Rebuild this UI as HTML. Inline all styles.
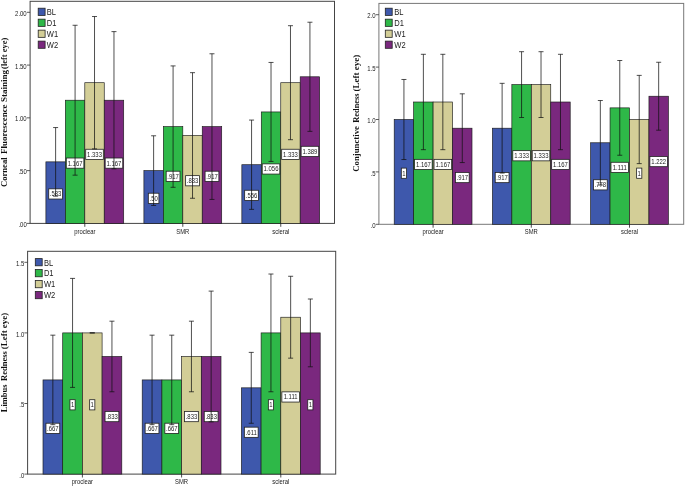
<!DOCTYPE html>
<html lang="en"><head><meta charset="utf-8"><title>Bar charts</title>
<style>html,body{margin:0;padding:0;background:#fff;}svg{display:block;filter:blur(0.3px);}text{font-family:"Liberation Sans",sans-serif;fill:#222;}.ttl{font-family:"Liberation Serif",serif;font-weight:bold;fill:#111;}</style></head><body>
<svg width="685" height="486" viewBox="0 0 685 486">
<rect x="0" y="0" width="685" height="486" fill="#fff"/>
<g>
<rect x="30.1" y="1.3" width="304.4" height="222.1" fill="#fff" stroke="#444" stroke-width="1"/>
<line x1="26.9" y1="12.3" x2="30.1" y2="12.3" stroke="#333" stroke-width="0.8"/>
<text transform="translate(26.7 15.9) scale(0.92 1)" font-size="6.5" text-anchor="end" fill="#333">2.00</text>
<line x1="26.9" y1="65.08" x2="30.1" y2="65.08" stroke="#333" stroke-width="0.8"/>
<text transform="translate(26.7 68.68) scale(0.92 1)" font-size="6.5" text-anchor="end" fill="#333">1.50</text>
<line x1="26.9" y1="117.85" x2="30.1" y2="117.85" stroke="#333" stroke-width="0.8"/>
<text transform="translate(26.7 121.45) scale(0.92 1)" font-size="6.5" text-anchor="end" fill="#333">1.00</text>
<line x1="26.9" y1="170.62" x2="30.1" y2="170.62" stroke="#333" stroke-width="0.8"/>
<text transform="translate(26.7 174.22) scale(0.92 1)" font-size="6.5" text-anchor="end" fill="#333">.50</text>
<line x1="26.9" y1="223.4" x2="30.1" y2="223.4" stroke="#333" stroke-width="0.8"/>
<text transform="translate(26.7 227) scale(0.92 1)" font-size="6.5" text-anchor="end" fill="#333">.00</text>
<rect x="45.9" y="161.86" width="19.45" height="61.54" fill="#3E58AC" stroke="#1a1a1a" stroke-width="0.65"/>
<rect x="65.35" y="100.22" width="19.45" height="123.18" fill="#2EB848" stroke="#1a1a1a" stroke-width="0.65"/>
<rect x="84.8" y="82.7" width="19.45" height="140.7" fill="#D3CE97" stroke="#1a1a1a" stroke-width="0.65"/>
<rect x="104.25" y="100.22" width="19.45" height="123.18" fill="#7A287E" stroke="#1a1a1a" stroke-width="0.65"/>
<rect x="143.9" y="170.62" width="19.45" height="52.78" fill="#3E58AC" stroke="#1a1a1a" stroke-width="0.65"/>
<rect x="163.35" y="126.61" width="19.45" height="96.79" fill="#2EB848" stroke="#1a1a1a" stroke-width="0.65"/>
<rect x="182.8" y="135.48" width="19.45" height="87.92" fill="#D3CE97" stroke="#1a1a1a" stroke-width="0.65"/>
<rect x="202.25" y="126.61" width="19.45" height="96.79" fill="#7A287E" stroke="#1a1a1a" stroke-width="0.65"/>
<rect x="241.85" y="164.71" width="19.45" height="58.69" fill="#3E58AC" stroke="#1a1a1a" stroke-width="0.65"/>
<rect x="261.3" y="111.94" width="19.45" height="111.46" fill="#2EB848" stroke="#1a1a1a" stroke-width="0.65"/>
<rect x="280.75" y="82.7" width="19.45" height="140.7" fill="#D3CE97" stroke="#1a1a1a" stroke-width="0.65"/>
<rect x="300.2" y="76.79" width="19.45" height="146.61" fill="#7A287E" stroke="#1a1a1a" stroke-width="0.65"/>
<rect x="48.73" y="188.83" width="13.8" height="10.2" fill="#fff" stroke="#222" stroke-width="0.8"/>
<text transform="translate(55.62 196.33) scale(0.9 1)" font-size="6.6" text-anchor="middle" fill="#333">.583</text>
<rect x="66.28" y="158.01" width="17.6" height="10.2" fill="#fff" stroke="#222" stroke-width="0.8"/>
<text transform="translate(75.08 165.51) scale(0.9 1)" font-size="6.6" text-anchor="middle" fill="#333">1.167</text>
<rect x="85.72" y="149.25" width="17.6" height="10.2" fill="#fff" stroke="#222" stroke-width="0.8"/>
<text transform="translate(94.52 156.75) scale(0.9 1)" font-size="6.6" text-anchor="middle" fill="#333">1.333</text>
<rect x="105.17" y="158.01" width="17.6" height="10.2" fill="#fff" stroke="#222" stroke-width="0.8"/>
<text transform="translate(113.97 165.51) scale(0.9 1)" font-size="6.6" text-anchor="middle" fill="#333">1.167</text>
<rect x="148.32" y="193.21" width="10.6" height="10.2" fill="#fff" stroke="#222" stroke-width="0.8"/>
<text transform="translate(153.62 200.71) scale(0.9 1)" font-size="6.6" text-anchor="middle" fill="#333">.50</text>
<rect x="166.18" y="171.21" width="13.8" height="10.2" fill="#fff" stroke="#222" stroke-width="0.8"/>
<text transform="translate(173.08 178.71) scale(0.9 1)" font-size="6.6" text-anchor="middle" fill="#333">.917</text>
<rect x="185.62" y="175.64" width="13.8" height="10.2" fill="#fff" stroke="#222" stroke-width="0.8"/>
<text transform="translate(192.53 183.14) scale(0.9 1)" font-size="6.6" text-anchor="middle" fill="#333">.833</text>
<rect x="205.08" y="171.21" width="13.8" height="10.2" fill="#fff" stroke="#222" stroke-width="0.8"/>
<text transform="translate(211.98 178.71) scale(0.9 1)" font-size="6.6" text-anchor="middle" fill="#333">.917</text>
<rect x="244.67" y="190.26" width="13.8" height="10.2" fill="#fff" stroke="#222" stroke-width="0.8"/>
<text transform="translate(251.57 197.76) scale(0.9 1)" font-size="6.6" text-anchor="middle" fill="#333">.556</text>
<rect x="262.22" y="163.87" width="17.6" height="10.2" fill="#fff" stroke="#222" stroke-width="0.8"/>
<text transform="translate(271.02 171.37) scale(0.9 1)" font-size="6.6" text-anchor="middle" fill="#333">1.056</text>
<rect x="281.68" y="149.25" width="17.6" height="10.2" fill="#fff" stroke="#222" stroke-width="0.8"/>
<text transform="translate(290.48 156.75) scale(0.9 1)" font-size="6.6" text-anchor="middle" fill="#333">1.333</text>
<rect x="301.12" y="146.3" width="17.6" height="10.2" fill="#fff" stroke="#222" stroke-width="0.8"/>
<text transform="translate(309.93 153.8) scale(0.9 1)" font-size="6.6" text-anchor="middle" fill="#333">1.389</text>
<path d="M55.62 127.56V196.17M53.12 127.56h5M53.12 196.17h5" stroke="#111" stroke-width="0.74" fill="none"/>
<path d="M75.08 25.28V175.16M72.58 25.28h5M72.58 175.16h5" stroke="#111" stroke-width="0.74" fill="none"/>
<path d="M94.52 16.52V148.88M92.02 16.52h5M92.02 148.88h5" stroke="#111" stroke-width="0.74" fill="none"/>
<path d="M113.97 31.62V168.83M111.47 31.62h5M111.47 168.83h5" stroke="#111" stroke-width="0.74" fill="none"/>
<path d="M153.62 135.79V205.46M151.12 135.79h5M151.12 205.46h5" stroke="#111" stroke-width="0.74" fill="none"/>
<path d="M173.08 65.92V187.3M170.58 65.92h5M170.58 187.3h5" stroke="#111" stroke-width="0.74" fill="none"/>
<path d="M192.53 72.67V198.28M190.03 72.67h5M190.03 198.28h5" stroke="#111" stroke-width="0.74" fill="none"/>
<path d="M211.98 53.78V199.44M209.48 53.78h5M209.48 199.44h5" stroke="#111" stroke-width="0.74" fill="none"/>
<path d="M251.57 120.07V209.36M249.07 120.07h5M249.07 209.36h5" stroke="#111" stroke-width="0.74" fill="none"/>
<path d="M271.02 62.44V161.44M268.52 62.44h5M268.52 161.44h5" stroke="#111" stroke-width="0.74" fill="none"/>
<path d="M290.48 25.7V139.7M287.98 25.7h5M287.98 139.7h5" stroke="#111" stroke-width="0.74" fill="none"/>
<path d="M309.93 22.22V131.36M307.43 22.22h5M307.43 131.36h5" stroke="#111" stroke-width="0.74" fill="none"/>
<line x1="84.8" y1="223.4" x2="84.8" y2="226.8" stroke="#222" stroke-width="0.8"/>
<text transform="translate(84.8 233.6) scale(0.92 1)" font-size="6.4" text-anchor="middle" fill="#222">proclear</text>
<line x1="182.8" y1="223.4" x2="182.8" y2="226.8" stroke="#222" stroke-width="0.8"/>
<text transform="translate(182.8 233.6) scale(0.92 1)" font-size="6.4" text-anchor="middle" fill="#222">SMR</text>
<line x1="280.75" y1="223.4" x2="280.75" y2="226.8" stroke="#222" stroke-width="0.8"/>
<text transform="translate(280.75 233.6) scale(0.92 1)" font-size="6.4" text-anchor="middle" fill="#222">scleral</text>
<rect x="38.2" y="8.2" width="6.9" height="7.2" fill="#3E58AC" stroke="#222" stroke-width="0.8"/>
<text transform="translate(46.8 15.1) scale(0.86 1)" font-size="8.8" text-anchor="start" fill="#222">BL</text>
<rect x="38.2" y="19.17" width="6.9" height="7.2" fill="#2EB848" stroke="#222" stroke-width="0.8"/>
<text transform="translate(46.8 26.07) scale(0.86 1)" font-size="8.8" text-anchor="start" fill="#222">D1</text>
<rect x="38.2" y="30.14" width="6.9" height="7.2" fill="#D3CE97" stroke="#222" stroke-width="0.8"/>
<text transform="translate(46.8 37.04) scale(0.86 1)" font-size="8.8" text-anchor="start" fill="#222">W1</text>
<rect x="38.2" y="41.11" width="6.9" height="7.2" fill="#7A287E" stroke="#222" stroke-width="0.8"/>
<text transform="translate(46.8 48.01) scale(0.86 1)" font-size="8.8" text-anchor="start" fill="#222">W2</text>
<text class="ttl" transform="translate(7.3 187) rotate(-90)" font-size="8.2" textLength="29.6" lengthAdjust="spacingAndGlyphs">Corneal</text>
<text class="ttl" transform="translate(7.3 154) rotate(-90)" font-size="8.2" textLength="49.6" lengthAdjust="spacingAndGlyphs">Fluorescence</text>
<text class="ttl" transform="translate(7.3 102) rotate(-90)" font-size="8.2" textLength="31.9" lengthAdjust="spacingAndGlyphs">Staining</text>
<text class="ttl" transform="translate(7.3 68.9) rotate(-90)" font-size="8.2" textLength="31.1" lengthAdjust="spacingAndGlyphs">(left eye)</text>
</g>
<g>
<rect x="378.9" y="3.4" width="304.8" height="220.9" fill="#fff" stroke="#777" stroke-width="1"/>
<line x1="375.7" y1="14.7" x2="378.9" y2="14.7" stroke="#333" stroke-width="0.8"/>
<text transform="translate(375.5 18.3) scale(0.92 1)" font-size="6.5" text-anchor="end" fill="#333">2.0</text>
<line x1="375.7" y1="67.1" x2="378.9" y2="67.1" stroke="#333" stroke-width="0.8"/>
<text transform="translate(375.5 70.7) scale(0.92 1)" font-size="6.5" text-anchor="end" fill="#333">1.5</text>
<line x1="375.7" y1="119.5" x2="378.9" y2="119.5" stroke="#333" stroke-width="0.8"/>
<text transform="translate(375.5 123.1) scale(0.92 1)" font-size="6.5" text-anchor="end" fill="#333">1.0</text>
<line x1="375.7" y1="171.9" x2="378.9" y2="171.9" stroke="#333" stroke-width="0.8"/>
<text transform="translate(375.5 175.5) scale(0.92 1)" font-size="6.5" text-anchor="end" fill="#333">.5</text>
<line x1="375.7" y1="224.3" x2="378.9" y2="224.3" stroke="#333" stroke-width="0.8"/>
<text transform="translate(375.5 227.9) scale(0.92 1)" font-size="6.5" text-anchor="end" fill="#333">.0</text>
<rect x="394.2" y="119.5" width="19.45" height="104.8" fill="#3E58AC" stroke="#1a1a1a" stroke-width="0.65"/>
<rect x="413.65" y="102" width="19.45" height="122.3" fill="#2EB848" stroke="#1a1a1a" stroke-width="0.65"/>
<rect x="433.1" y="102" width="19.45" height="122.3" fill="#D3CE97" stroke="#1a1a1a" stroke-width="0.65"/>
<rect x="452.55" y="128.2" width="19.45" height="96.1" fill="#7A287E" stroke="#1a1a1a" stroke-width="0.65"/>
<rect x="492.4" y="128.2" width="19.45" height="96.1" fill="#3E58AC" stroke="#1a1a1a" stroke-width="0.65"/>
<rect x="511.85" y="84.6" width="19.45" height="139.7" fill="#2EB848" stroke="#1a1a1a" stroke-width="0.65"/>
<rect x="531.3" y="84.6" width="19.45" height="139.7" fill="#D3CE97" stroke="#1a1a1a" stroke-width="0.65"/>
<rect x="550.75" y="102" width="19.45" height="122.3" fill="#7A287E" stroke="#1a1a1a" stroke-width="0.65"/>
<rect x="590.6" y="142.77" width="19.45" height="81.53" fill="#3E58AC" stroke="#1a1a1a" stroke-width="0.65"/>
<rect x="610.05" y="107.87" width="19.45" height="116.43" fill="#2EB848" stroke="#1a1a1a" stroke-width="0.65"/>
<rect x="629.5" y="119.5" width="19.45" height="104.8" fill="#D3CE97" stroke="#1a1a1a" stroke-width="0.65"/>
<rect x="648.95" y="96.23" width="19.45" height="128.07" fill="#7A287E" stroke="#1a1a1a" stroke-width="0.65"/>
<rect x="401.32" y="168.1" width="5.2" height="10.2" fill="#fff" stroke="#222" stroke-width="0.8"/>
<text transform="translate(403.93 175.6) scale(0.9 1)" font-size="6.6" text-anchor="middle" fill="#333">1</text>
<rect x="414.57" y="159.35" width="17.6" height="10.2" fill="#fff" stroke="#222" stroke-width="0.8"/>
<text transform="translate(423.38 166.85) scale(0.9 1)" font-size="6.6" text-anchor="middle" fill="#333">1.167</text>
<rect x="434.03" y="159.35" width="17.6" height="10.2" fill="#fff" stroke="#222" stroke-width="0.8"/>
<text transform="translate(442.83 166.85) scale(0.9 1)" font-size="6.6" text-anchor="middle" fill="#333">1.167</text>
<rect x="455.38" y="172.45" width="13.8" height="10.2" fill="#fff" stroke="#222" stroke-width="0.8"/>
<text transform="translate(462.28 179.95) scale(0.9 1)" font-size="6.6" text-anchor="middle" fill="#333">.917</text>
<rect x="495.22" y="172.45" width="13.8" height="10.2" fill="#fff" stroke="#222" stroke-width="0.8"/>
<text transform="translate(502.12 179.95) scale(0.9 1)" font-size="6.6" text-anchor="middle" fill="#333">.917</text>
<rect x="512.77" y="150.65" width="17.6" height="10.2" fill="#fff" stroke="#222" stroke-width="0.8"/>
<text transform="translate(521.57 158.15) scale(0.9 1)" font-size="6.6" text-anchor="middle" fill="#333">1.333</text>
<rect x="532.23" y="150.65" width="17.6" height="10.2" fill="#fff" stroke="#222" stroke-width="0.8"/>
<text transform="translate(541.02 158.15) scale(0.9 1)" font-size="6.6" text-anchor="middle" fill="#333">1.333</text>
<rect x="551.67" y="159.35" width="17.6" height="10.2" fill="#fff" stroke="#222" stroke-width="0.8"/>
<text transform="translate(560.47 166.85) scale(0.9 1)" font-size="6.6" text-anchor="middle" fill="#333">1.167</text>
<rect x="593.43" y="179.73" width="13.8" height="10.2" fill="#fff" stroke="#222" stroke-width="0.8"/>
<text transform="translate(600.33 187.23) scale(0.9 1)" font-size="6.6" text-anchor="middle" fill="#333">.778</text>
<rect x="610.98" y="162.28" width="17.6" height="10.2" fill="#fff" stroke="#222" stroke-width="0.8"/>
<text transform="translate(619.77 169.78) scale(0.9 1)" font-size="6.6" text-anchor="middle" fill="#333">1.111</text>
<rect x="636.62" y="168.1" width="5.2" height="10.2" fill="#fff" stroke="#222" stroke-width="0.8"/>
<text transform="translate(639.23 175.6) scale(0.9 1)" font-size="6.6" text-anchor="middle" fill="#333">1</text>
<rect x="649.88" y="156.47" width="17.6" height="10.2" fill="#fff" stroke="#222" stroke-width="0.8"/>
<text transform="translate(658.67 163.97) scale(0.9 1)" font-size="6.6" text-anchor="middle" fill="#333">1.222</text>
<path d="M403.93 79.47V159.53M401.43 79.47h5M401.43 159.53h5" stroke="#111" stroke-width="0.74" fill="none"/>
<path d="M423.38 54.31V149.68M420.88 54.31h5M420.88 149.68h5" stroke="#111" stroke-width="0.74" fill="none"/>
<path d="M442.83 54.31V149.68M440.33 54.31h5M440.33 149.68h5" stroke="#111" stroke-width="0.74" fill="none"/>
<path d="M462.28 93.82V162.57M459.78 93.82h5M459.78 162.57h5" stroke="#111" stroke-width="0.74" fill="none"/>
<path d="M502.12 83.34V173.05M499.62 83.34h5M499.62 173.05h5" stroke="#111" stroke-width="0.74" fill="none"/>
<path d="M521.57 51.69V117.51M519.07 51.69h5M519.07 117.51h5" stroke="#111" stroke-width="0.74" fill="none"/>
<path d="M541.02 51.69V117.51M538.52 51.69h5M538.52 117.51h5" stroke="#111" stroke-width="0.74" fill="none"/>
<path d="M560.47 54.31V149.68M557.97 54.31h5M557.97 149.68h5" stroke="#111" stroke-width="0.74" fill="none"/>
<path d="M600.33 100.53V185M597.83 100.53h5M597.83 185h5" stroke="#111" stroke-width="0.74" fill="none"/>
<path d="M619.77 60.5V155.24M617.27 60.5h5M617.27 155.24h5" stroke="#111" stroke-width="0.74" fill="none"/>
<path d="M639.23 75.38V163.62M636.73 75.38h5M636.73 163.62h5" stroke="#111" stroke-width="0.74" fill="none"/>
<path d="M658.67 62.28V130.19M656.17 62.28h5M656.17 130.19h5" stroke="#111" stroke-width="0.74" fill="none"/>
<line x1="433.1" y1="224.3" x2="433.1" y2="227.7" stroke="#222" stroke-width="0.8"/>
<text transform="translate(433.1 234.2) scale(0.92 1)" font-size="6.4" text-anchor="middle" fill="#222">proclear</text>
<line x1="531.3" y1="224.3" x2="531.3" y2="227.7" stroke="#222" stroke-width="0.8"/>
<text transform="translate(531.3 234.2) scale(0.92 1)" font-size="6.4" text-anchor="middle" fill="#222">SMR</text>
<line x1="629.5" y1="224.3" x2="629.5" y2="227.7" stroke="#222" stroke-width="0.8"/>
<text transform="translate(629.5 234.2) scale(0.92 1)" font-size="6.4" text-anchor="middle" fill="#222">scleral</text>
<rect x="385.3" y="8.2" width="6.9" height="7.2" fill="#3E58AC" stroke="#222" stroke-width="0.8"/>
<text transform="translate(394.3 15.1) scale(0.86 1)" font-size="8.8" text-anchor="start" fill="#222">BL</text>
<rect x="385.3" y="19.17" width="6.9" height="7.2" fill="#2EB848" stroke="#222" stroke-width="0.8"/>
<text transform="translate(394.3 26.07) scale(0.86 1)" font-size="8.8" text-anchor="start" fill="#222">D1</text>
<rect x="385.3" y="30.14" width="6.9" height="7.2" fill="#D3CE97" stroke="#222" stroke-width="0.8"/>
<text transform="translate(394.3 37.04) scale(0.86 1)" font-size="8.8" text-anchor="start" fill="#222">W1</text>
<rect x="385.3" y="41.11" width="6.9" height="7.2" fill="#7A287E" stroke="#222" stroke-width="0.8"/>
<text transform="translate(394.3 48.01) scale(0.86 1)" font-size="8.8" text-anchor="start" fill="#222">W2</text>
<text class="ttl" transform="translate(358.7 171.8) rotate(-90)" font-size="8.2" textLength="45.8" lengthAdjust="spacingAndGlyphs">Conjunctive</text>
<text class="ttl" transform="translate(358.7 122.7) rotate(-90)" font-size="8.2" textLength="29.2" lengthAdjust="spacingAndGlyphs">Redness</text>
<text class="ttl" transform="translate(358.7 91.5) rotate(-90)" font-size="8.2" textLength="36.8" lengthAdjust="spacingAndGlyphs">(Left eye)</text>
</g>
<g>
<rect x="27.6" y="251.3" width="308.1" height="222.8" fill="#fff" stroke="#444" stroke-width="1"/>
<line x1="24.4" y1="262.3" x2="27.6" y2="262.3" stroke="#333" stroke-width="0.8"/>
<text transform="translate(24.2 265.9) scale(0.92 1)" font-size="6.5" text-anchor="end" fill="#333">1.5</text>
<line x1="24.4" y1="332.9" x2="27.6" y2="332.9" stroke="#333" stroke-width="0.8"/>
<text transform="translate(24.2 336.5) scale(0.92 1)" font-size="6.5" text-anchor="end" fill="#333">1.0</text>
<line x1="24.4" y1="403.5" x2="27.6" y2="403.5" stroke="#333" stroke-width="0.8"/>
<text transform="translate(24.2 407.1) scale(0.92 1)" font-size="6.5" text-anchor="end" fill="#333">.5</text>
<line x1="24.4" y1="474.1" x2="27.6" y2="474.1" stroke="#333" stroke-width="0.8"/>
<text transform="translate(24.2 477.7) scale(0.92 1)" font-size="6.5" text-anchor="end" fill="#333">.0</text>
<rect x="43" y="379.92" width="19.7" height="94.18" fill="#3E58AC" stroke="#1a1a1a" stroke-width="0.65"/>
<rect x="62.7" y="332.9" width="19.7" height="141.2" fill="#2EB848" stroke="#1a1a1a" stroke-width="0.65"/>
<rect x="82.4" y="332.9" width="19.7" height="141.2" fill="#D3CE97" stroke="#1a1a1a" stroke-width="0.65"/>
<rect x="102.1" y="356.48" width="19.7" height="117.62" fill="#7A287E" stroke="#1a1a1a" stroke-width="0.65"/>
<rect x="142.2" y="379.92" width="19.7" height="94.18" fill="#3E58AC" stroke="#1a1a1a" stroke-width="0.65"/>
<rect x="161.9" y="379.92" width="19.7" height="94.18" fill="#2EB848" stroke="#1a1a1a" stroke-width="0.65"/>
<rect x="181.6" y="356.48" width="19.7" height="117.62" fill="#D3CE97" stroke="#1a1a1a" stroke-width="0.65"/>
<rect x="201.3" y="356.48" width="19.7" height="117.62" fill="#7A287E" stroke="#1a1a1a" stroke-width="0.65"/>
<rect x="241.4" y="387.83" width="19.7" height="86.27" fill="#3E58AC" stroke="#1a1a1a" stroke-width="0.65"/>
<rect x="261.1" y="332.9" width="19.7" height="141.2" fill="#2EB848" stroke="#1a1a1a" stroke-width="0.65"/>
<rect x="280.8" y="317.23" width="19.7" height="156.87" fill="#D3CE97" stroke="#1a1a1a" stroke-width="0.65"/>
<rect x="300.5" y="332.9" width="19.7" height="141.2" fill="#7A287E" stroke="#1a1a1a" stroke-width="0.65"/>
<rect x="45.95" y="423.21" width="13.8" height="10.2" fill="#fff" stroke="#222" stroke-width="0.8"/>
<text transform="translate(52.85 430.71) scale(0.9 1)" font-size="6.6" text-anchor="middle" fill="#333">.667</text>
<rect x="69.95" y="399.7" width="5.2" height="10.2" fill="#fff" stroke="#222" stroke-width="0.8"/>
<text transform="translate(72.55 407.2) scale(0.9 1)" font-size="6.6" text-anchor="middle" fill="#333">1</text>
<rect x="89.65" y="399.7" width="5.2" height="10.2" fill="#fff" stroke="#222" stroke-width="0.8"/>
<text transform="translate(92.25 407.2) scale(0.9 1)" font-size="6.6" text-anchor="middle" fill="#333">1</text>
<rect x="105.05" y="411.49" width="13.8" height="10.2" fill="#fff" stroke="#222" stroke-width="0.8"/>
<text transform="translate(111.95 418.99) scale(0.9 1)" font-size="6.6" text-anchor="middle" fill="#333">.833</text>
<rect x="145.15" y="423.21" width="13.8" height="10.2" fill="#fff" stroke="#222" stroke-width="0.8"/>
<text transform="translate(152.05 430.71) scale(0.9 1)" font-size="6.6" text-anchor="middle" fill="#333">.667</text>
<rect x="164.85" y="423.21" width="13.8" height="10.2" fill="#fff" stroke="#222" stroke-width="0.8"/>
<text transform="translate(171.75 430.71) scale(0.9 1)" font-size="6.6" text-anchor="middle" fill="#333">.667</text>
<rect x="184.55" y="411.49" width="13.8" height="10.2" fill="#fff" stroke="#222" stroke-width="0.8"/>
<text transform="translate(191.45 418.99) scale(0.9 1)" font-size="6.6" text-anchor="middle" fill="#333">.833</text>
<rect x="204.25" y="411.49" width="13.8" height="10.2" fill="#fff" stroke="#222" stroke-width="0.8"/>
<text transform="translate(211.15 418.99) scale(0.9 1)" font-size="6.6" text-anchor="middle" fill="#333">.833</text>
<rect x="244.35" y="427.16" width="13.8" height="10.2" fill="#fff" stroke="#222" stroke-width="0.8"/>
<text transform="translate(251.25 434.66) scale(0.9 1)" font-size="6.6" text-anchor="middle" fill="#333">.611</text>
<rect x="268.35" y="399.7" width="5.2" height="10.2" fill="#fff" stroke="#222" stroke-width="0.8"/>
<text transform="translate(270.95 407.2) scale(0.9 1)" font-size="6.6" text-anchor="middle" fill="#333">1</text>
<rect x="281.85" y="391.86" width="17.6" height="10.2" fill="#fff" stroke="#222" stroke-width="0.8"/>
<text transform="translate(290.65 399.36) scale(0.9 1)" font-size="6.6" text-anchor="middle" fill="#333">1.111</text>
<rect x="307.75" y="399.7" width="5.2" height="10.2" fill="#fff" stroke="#222" stroke-width="0.8"/>
<text transform="translate(310.35 407.2) scale(0.9 1)" font-size="6.6" text-anchor="middle" fill="#333">1</text>
<path d="M52.85 335.16V424.68M50.35 335.16h5M50.35 424.68h5" stroke="#111" stroke-width="0.74" fill="none"/>
<path d="M72.55 278.4V387.4M70.05 278.4h5M70.05 387.4h5" stroke="#111" stroke-width="0.74" fill="none"/>
<path d="M92.25 332.9V332.9M89.75 332.9h5M89.75 332.9h5" stroke="#111" stroke-width="0.74" fill="none"/>
<path d="M111.95 321.18V391.78M109.45 321.18h5M109.45 391.78h5" stroke="#111" stroke-width="0.74" fill="none"/>
<path d="M152.05 335.16V424.68M149.55 335.16h5M149.55 424.68h5" stroke="#111" stroke-width="0.74" fill="none"/>
<path d="M171.75 335.16V424.68M169.25 335.16h5M169.25 424.68h5" stroke="#111" stroke-width="0.74" fill="none"/>
<path d="M191.45 321.18V391.78M188.95 321.18h5M188.95 391.78h5" stroke="#111" stroke-width="0.74" fill="none"/>
<path d="M211.15 291.1V421.86M208.65 291.1h5M208.65 421.86h5" stroke="#111" stroke-width="0.74" fill="none"/>
<path d="M251.25 352.39V423.27M248.75 352.39h5M248.75 423.27h5" stroke="#111" stroke-width="0.74" fill="none"/>
<path d="M270.95 274.02V391.78M268.45 274.02h5M268.45 391.78h5" stroke="#111" stroke-width="0.74" fill="none"/>
<path d="M290.65 276.28V358.17M288.15 276.28h5M288.15 358.17h5" stroke="#111" stroke-width="0.74" fill="none"/>
<path d="M310.35 299.01V366.79M307.85 299.01h5M307.85 366.79h5" stroke="#111" stroke-width="0.74" fill="none"/>
<line x1="82.4" y1="474.1" x2="82.4" y2="477.5" stroke="#222" stroke-width="0.8"/>
<text transform="translate(82.4 483.6) scale(0.92 1)" font-size="6.4" text-anchor="middle" fill="#222">proclear</text>
<line x1="181.6" y1="474.1" x2="181.6" y2="477.5" stroke="#222" stroke-width="0.8"/>
<text transform="translate(181.6 483.6) scale(0.92 1)" font-size="6.4" text-anchor="middle" fill="#222">SMR</text>
<line x1="280.8" y1="474.1" x2="280.8" y2="477.5" stroke="#222" stroke-width="0.8"/>
<text transform="translate(280.8 483.6) scale(0.92 1)" font-size="6.4" text-anchor="middle" fill="#222">scleral</text>
<rect x="35.3" y="258.6" width="6.9" height="7.2" fill="#3E58AC" stroke="#222" stroke-width="0.8"/>
<text transform="translate(43.9 265.5) scale(0.86 1)" font-size="8.8" text-anchor="start" fill="#222">BL</text>
<rect x="35.3" y="269.57" width="6.9" height="7.2" fill="#2EB848" stroke="#222" stroke-width="0.8"/>
<text transform="translate(43.9 276.47) scale(0.86 1)" font-size="8.8" text-anchor="start" fill="#222">D1</text>
<rect x="35.3" y="280.54" width="6.9" height="7.2" fill="#D3CE97" stroke="#222" stroke-width="0.8"/>
<text transform="translate(43.9 287.44) scale(0.86 1)" font-size="8.8" text-anchor="start" fill="#222">W1</text>
<rect x="35.3" y="291.51" width="6.9" height="7.2" fill="#7A287E" stroke="#222" stroke-width="0.8"/>
<text transform="translate(43.9 298.41) scale(0.86 1)" font-size="8.8" text-anchor="start" fill="#222">W2</text>
<text class="ttl" transform="translate(7.2 412.2) rotate(-90)" font-size="8.2" textLength="27.7" lengthAdjust="spacingAndGlyphs">Limbus</text>
<text class="ttl" transform="translate(7.2 381) rotate(-90)" font-size="8.2" textLength="29.8" lengthAdjust="spacingAndGlyphs">Redness</text>
<text class="ttl" transform="translate(7.2 349.2) rotate(-90)" font-size="8.2" textLength="36.4" lengthAdjust="spacingAndGlyphs">(Left eye)</text>
</g>
</svg></body></html>
